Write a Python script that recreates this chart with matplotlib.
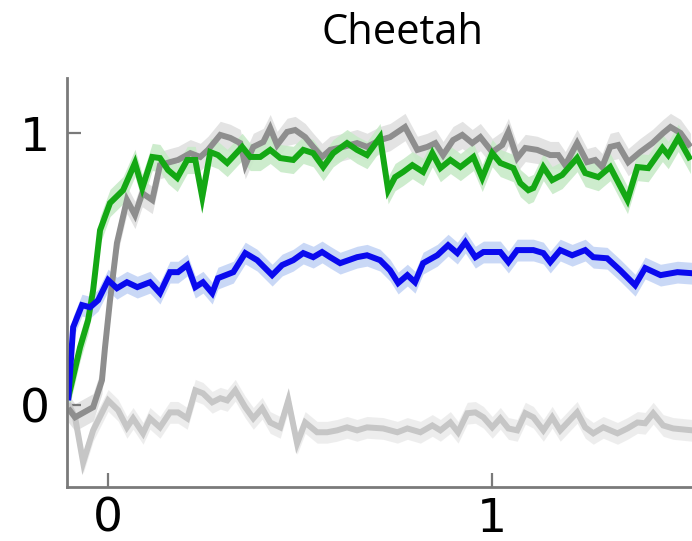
import numpy as np
import matplotlib
matplotlib.use("Agg")
import matplotlib.pyplot as plt

# values (x in plot units, y normalised score)
green_x = [-0.104, -0.073, -0.052, -0.039, -0.021, 0.005, 0.039, 0.070, 0.089, 0.115,
           0.135, 0.156, 0.180, 0.206, 0.227, 0.245, 0.266, 0.286, 0.310, 0.349,
           0.370, 0.396, 0.422, 0.448, 0.482, 0.508, 0.534, 0.560, 0.586, 0.622,
           0.648, 0.674, 0.708, 0.729, 0.747, 0.768, 0.792, 0.820, 0.844, 0.865,
           0.891, 0.917, 0.951, 0.974, 1.000, 1.021, 1.055, 1.073, 1.094, 1.107,
           1.133, 1.156, 1.182, 1.221, 1.242, 1.276, 1.307, 1.352, 1.378, 1.406,
           1.443, 1.458, 1.484, 1.516]
green_y = [0.026, 0.213, 0.313, 0.423, 0.643, 0.743, 0.790, 0.890, 0.798, 0.912,
           0.908, 0.864, 0.835, 0.901, 0.901, 0.765, 0.930, 0.919, 0.890, 0.949,
           0.912, 0.912, 0.938, 0.908, 0.901, 0.938, 0.926, 0.875, 0.926, 0.963,
           0.938, 0.919, 0.985, 0.790, 0.838, 0.857, 0.882, 0.857, 0.926, 0.871,
           0.901, 0.875, 0.912, 0.835, 0.926, 0.890, 0.871, 0.816, 0.790, 0.798,
           0.875, 0.827, 0.846, 0.908, 0.853, 0.838, 0.875, 0.754, 0.875, 0.871,
           0.945, 0.919, 0.982, 0.901]

gray_x = [-0.104, -0.086, -0.039, -0.016, -0.008, 0.005, 0.023, 0.049, 0.070, 0.089,
          0.115, 0.135, 0.161, 0.182, 0.214, 0.240, 0.260, 0.292, 0.318, 0.344,
          0.357, 0.378, 0.404, 0.422, 0.440, 0.466, 0.487, 0.513, 0.534, 0.557,
          0.578, 0.612, 0.648, 0.674, 0.708, 0.734, 0.773, 0.805, 0.831, 0.852,
          0.872, 0.898, 0.922, 0.948, 0.969, 1.000, 1.026, 1.042, 1.065, 1.086,
          1.117, 1.151, 1.172, 1.190, 1.221, 1.247, 1.268, 1.286, 1.307, 1.328,
          1.354, 1.385, 1.417, 1.445, 1.464, 1.490, 1.516]
gray_y = [-0.011, -0.044, -0.007, 0.092, 0.213, 0.386, 0.596, 0.754, 0.699, 0.779,
          0.754, 0.882, 0.893, 0.901, 0.926, 0.912, 0.938, 0.993, 0.982, 0.963,
          0.882, 0.949, 0.967, 1.018, 0.956, 1.004, 1.011, 0.985, 0.949, 0.912,
          0.938, 0.949, 0.963, 0.949, 0.974, 0.985, 1.022, 0.938, 0.949, 0.963,
          0.919, 0.974, 0.993, 0.963, 0.985, 0.930, 0.956, 1.004, 0.908, 0.945,
          0.938, 0.919, 0.919, 0.882, 0.963, 0.893, 0.901, 0.875, 0.949, 0.956,
          0.893, 0.930, 0.963, 1.000, 1.022, 1.000, 0.949]

blue_x = [-0.104, -0.091, -0.068, -0.047, -0.026, 0.000, 0.023, 0.049, 0.076, 0.109,
          0.135, 0.161, 0.182, 0.206, 0.227, 0.247, 0.271, 0.286, 0.326, 0.357,
          0.388, 0.427, 0.453, 0.482, 0.508, 0.534, 0.557, 0.578, 0.604, 0.648,
          0.674, 0.708, 0.734, 0.755, 0.779, 0.799, 0.820, 0.857, 0.885, 0.909,
          0.930, 0.956, 0.977, 1.021, 1.042, 1.065, 1.107, 1.133, 1.151, 1.177,
          1.208, 1.242, 1.263, 1.299, 1.333, 1.372, 1.398, 1.438, 1.482, 1.521]
blue_y = [0.018, 0.287, 0.368, 0.360, 0.386, 0.460, 0.430, 0.452, 0.434, 0.452,
          0.412, 0.489, 0.489, 0.515, 0.434, 0.452, 0.412, 0.467, 0.489, 0.559,
          0.533, 0.478, 0.515, 0.533, 0.559, 0.544, 0.563, 0.544, 0.522, 0.544,
          0.551, 0.533, 0.496, 0.449, 0.478, 0.452, 0.522, 0.551, 0.588, 0.559,
          0.599, 0.544, 0.563, 0.563, 0.526, 0.570, 0.570, 0.559, 0.526, 0.570,
          0.551, 0.570, 0.544, 0.540, 0.496, 0.441, 0.504, 0.478, 0.489, 0.485]

light_x = [-0.104, -0.086, -0.065, -0.039, 0.000, 0.026, 0.049, 0.065, 0.091, 0.109,
           0.135, 0.161, 0.182, 0.206, 0.227, 0.247, 0.271, 0.292, 0.310, 0.331,
           0.357, 0.378, 0.401, 0.422, 0.448, 0.469, 0.492, 0.513, 0.544, 0.570,
           0.596, 0.622, 0.648, 0.674, 0.716, 0.753, 0.779, 0.813, 0.844, 0.865,
           0.891, 0.911, 0.935, 0.956, 0.977, 1.000, 1.021, 1.042, 1.065, 1.086,
           1.107, 1.133, 1.156, 1.177, 1.221, 1.242, 1.263, 1.289, 1.326, 1.352,
           1.378, 1.398, 1.419, 1.445, 1.471, 1.521]
light_y = [0.007, -0.044, -0.210, -0.092, 0.018, -0.018, -0.081, -0.048, -0.103, -0.048,
           -0.081, -0.026, -0.026, -0.048, 0.055, 0.044, 0.011, 0.026, 0.018, 0.055,
           -0.007, -0.048, -0.011, -0.063, -0.081, 0.018, -0.140, -0.063, -0.099, -0.099,
           -0.092, -0.081, -0.092, -0.081, -0.085, -0.099, -0.085, -0.099, -0.074, -0.092,
           -0.063, -0.099, -0.029, -0.026, -0.044, -0.081, -0.048, -0.085, -0.092, -0.029,
           -0.044, -0.092, -0.044, -0.092, -0.026, -0.081, -0.103, -0.081, -0.103, -0.085,
           -0.063, -0.066, -0.029, -0.074, -0.085, -0.092]

# rough half-width of the shaded bands
band_green = 0.05
band_gray = 0.05
band_blue = 0.04
band_light = 0.04

fig = plt.figure(figsize=(6.92, 5.41), dpi=100)
ax = fig.add_axes([67 / 692, 1 - 487 / 541, 1 - 67 / 692, (487 - 78) / 541])

series = [
    (light_x, light_y, band_light, "#c6c6c6", "#ececec"),
    (gray_x, gray_y, band_gray, "#8e8e8e", "#e0e0e0"),
    (green_x, green_y, band_green, "#14a814", "#c8eac8"),
    (blue_x, blue_y, band_blue, "#0a0aee", "#c4d4f6"),
]
for xs, ys, bw, col, fill in series:
    xs = np.array(xs)
    ys = np.array(ys)
    ax.fill_between(xs, ys - bw, ys + bw, color=fill, lw=0, alpha=0.9)
    ax.plot(xs, ys, color=col, lw=4.3, solid_joinstyle="miter", solid_capstyle="butt")

ax.set_xlim(-0.107, 1.52)
ax.set_ylim(-0.30, 1.202)
ax.set_xticks([0, 1])
ax.set_yticks([0, 1])
ax.set_xticklabels(["0", "1"])
ax.set_yticklabels(["0", "1"])

for side in ["top", "right"]:
    ax.spines[side].set_visible(False)
for side in ["left", "bottom"]:
    ax.spines[side].set_color("#7a7a7a")
    ax.spines[side].set_linewidth(2)

ax.tick_params(axis="both", direction="in", length=10, width=1.6, color="#7a7a7a",
               labelsize=34, pad=7)
ax.tick_params(axis="y", pad=12)

fig.text(403 / 692, 1 - 33 / 541, "Cheetah", ha="center", va="center",
         fontsize=30, family=["Open Sans", "DejaVu Sans"])

fig.savefig("out.png", dpi=100)
